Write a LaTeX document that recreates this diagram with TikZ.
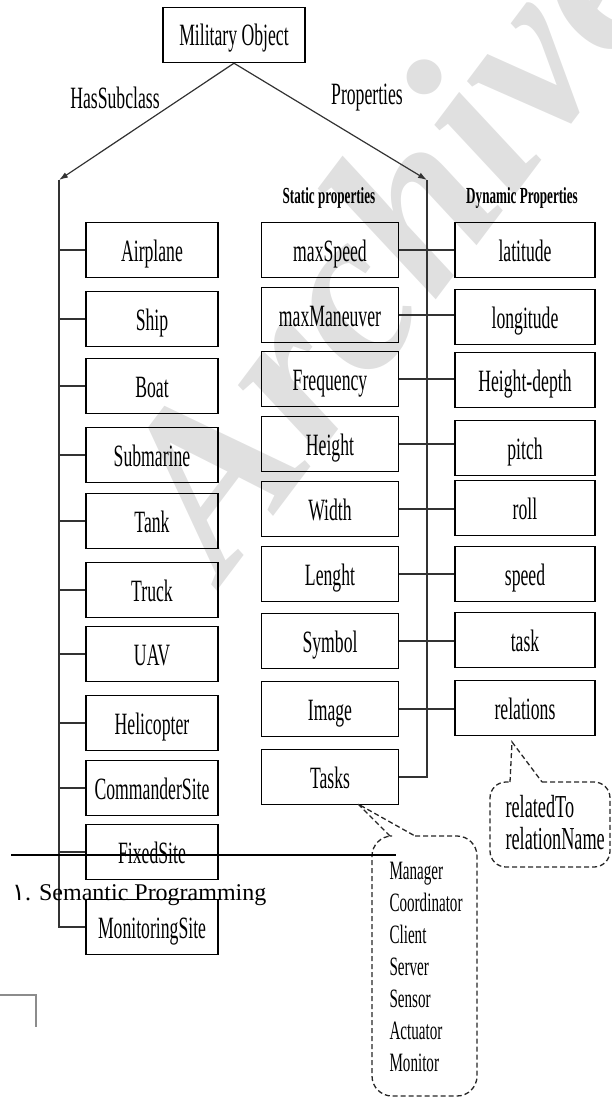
\documentclass[tikz,border=0pt]{standalone}
\usepackage{fontspec}
\setmainfont{Liberation Serif}
\newfontfamily\narrowfont[FakeStretch=0.57]{Liberation Serif}
\newfontfamily\arabicfont[Script=Arabic]{DejaVu Sans}
\TeXXeTstate=1
\usepackage{tikz}
\usetikzlibrary{arrows.meta}

\tikzset{
  objbox/.style={draw, line width=1.4pt, minimum height=55pt, inner sep=0pt,
    text height=22pt, text depth=0pt, font=\narrowfont\fontsize{31}{34}\selectfont},
  leftbox/.style={objbox, minimum width=132pt},
  midbox/.style={objbox, minimum width=137pt},
  rightbox/.style={objbox, minimum width=140pt},
  conn/.style={line width=1.2pt, draw=black!80},
  callout/.style={line width=1.3pt, dash pattern=on 5pt off 3pt, draw=black!85},
  linklabel/.style={font=\narrowfont\fontsize{31}{34}\selectfont},
  colhead/.style={font=\narrowfont\bfseries\fontsize{23}{26}\selectfont},
  listtext/.style={anchor=base west, font=\narrowfont\fontsize{26.5}{30}\selectfont},
  reltext/.style={anchor=base west, font=\narrowfont\fontsize{32}{34}\selectfont},
}

\begin{document}
\begin{tikzpicture}[x=1pt, y=-1pt]
  \useasboundingbox (0,0) rectangle (612,1097);
  \clip (0,0) rectangle (612,1097);

  % Watermark behind everything
  \node[rotate=53, anchor=base west, text=black!12,
    font=\fontsize{232}{232}\selectfont\bfseries\itshape] (mark) at (222,584) {Archive};

  % Root object
  \node[objbox, minimum width=142pt] (root) at (234,35) {Military Object};
  \node[linklabel] (hassub) at (115,98) {HasSubclass};
  \node[linklabel] (props) at (367,98) {Properties};
  \coordinate (lefttop) at (59,180);
  \coordinate (righttop) at (427,180);
  \draw[conn, -{Latex[length=9pt, width=6pt]}] (root.south) -- (lefttop);
  \draw[conn, -{Latex[length=9pt, width=6pt]}] (root.south) -- (righttop);

  % Column headings
  \node[colhead] (stathead) at (329,198) {Static properties};
  \node[colhead] (dynhead) at (522,198) {Dynamic Properties};

  % Subclasses
  \node[leftbox] (airplane) at (152,250) {Airplane};
  \node[leftbox] (ship) at (152,319) {Ship};
  \node[leftbox] (boat) at (152,386) {Boat};
  \node[leftbox] (submarine) at (152,455) {Submarine};
  \node[leftbox] (tank) at (152,521) {Tank};
  \node[leftbox] (truck) at (152,590) {Truck};
  \node[leftbox] (uav) at (152,654) {UAV};
  \node[leftbox] (helicopter) at (152,723) {Helicopter};
  \node[leftbox] (commander) at (152,788) {CommanderSite};
  \node[leftbox] (fixedsite) at (152,852) {FixedSite};
  \node[leftbox] (monitoring) at (152,927) {MonitoringSite};

  % Static properties
  \node[midbox] (smaxspeed) at (330,250) {maxSpeed};
  \node[midbox] (smaxman) at (330,315) {maxManeuver};
  \node[midbox] (sfreq) at (330,379) {Frequency};
  \node[midbox] (sheight) at (330,444) {Height};
  \node[midbox] (swidth) at (330,509) {Width};
  \node[midbox] (slength) at (330,574) {Lenght};
  \node[midbox] (ssymbol) at (330,641) {Symbol};
  \node[midbox] (simage) at (330,709) {Image};
  \node[midbox] (stasks) at (330,777) {Tasks};

  % Dynamic properties
  \node[rightbox] (dlat) at (525,250) {latitude};
  \node[rightbox] (dlong) at (525,317) {longitude};
  \node[rightbox] (ddepth) at (525,380) {Height-depth};
  \node[rightbox] (dpitch) at (525,448) {pitch};
  \node[rightbox] (droll) at (525,508) {roll};
  \node[rightbox] (dspeed) at (525,574) {speed};
  \node[rightbox] (dtask) at (525,640) {task};
  \node[rightbox] (drel) at (525,708) {relations};

  % Subclass bus
  \draw[conn] (lefttop) |- (monitoring.west);
  \draw[conn] (airplane.west) -- (airplane.west -| lefttop);
  \draw[conn] (ship.west) -- (ship.west -| lefttop);
  \draw[conn] (boat.west) -- (boat.west -| lefttop);
  \draw[conn] (submarine.west) -- (submarine.west -| lefttop);
  \draw[conn] (tank.west) -- (tank.west -| lefttop);
  \draw[conn] (truck.west) -- (truck.west -| lefttop);
  \draw[conn] (uav.west) -- (uav.west -| lefttop);
  \draw[conn] (helicopter.west) -- (helicopter.west -| lefttop);
  \draw[conn] (commander.west) -- (commander.west -| lefttop);
  \draw[conn] (fixedsite.west) -- (fixedsite.west -| lefttop);

  % Property bus and static-dynamic links
  \draw[conn] (righttop) |- (stasks.east);
  \draw[conn] (smaxspeed.east) -- (smaxspeed.east -| dlat.west);
  \draw[conn] (smaxman.east) -- (smaxman.east -| dlong.west);
  \draw[conn] (sfreq.east) -- (sfreq.east -| ddepth.west);
  \draw[conn] (sheight.east) -- (sheight.east -| dpitch.west);
  \draw[conn] (swidth.east) -- (swidth.east -| droll.west);
  \draw[conn] (slength.east) -- (slength.east -| dspeed.west);
  \draw[conn] (ssymbol.east) -- (ssymbol.east -| dtask.west);
  \draw[conn] (simage.east) -- (simage.east -| drel.west);

  % Callout for relations
  \coordinate (reltip) at (512,742);
  \draw[callout, rounded corners=16pt] (542,782) -- (610,782) -- (610,867) -- (490,867) -- (490,782) -- (510,782);
  \draw[callout] (510,782) -- (reltip) -- (542,782);
  \node[reltext] (relto) at (502,817) {relatedTo};
  \node[reltext] (relname) at (502,849) {relationName};

  % Callout for tasks
  \coordinate (tasktip) at (358,804);
  \draw[callout, rounded corners=20pt] (415,836) -- (477,836) -- (477,1096) -- (372,1096) -- (372,836) -- (390,836);
  \draw[callout] (390,836) -- (tasktip) -- (415,836);
  \node[listtext] (tmanager) at (386,879) {Manager};
  \node[listtext] (tcoord) at (386,911) {Coordinator};
  \node[listtext] (tclient) at (386,943) {Client};
  \node[listtext] (tserver) at (386,975) {Server};
  \node[listtext] (tsensor) at (386,1007) {Sensor};
  \node[listtext] (tactuator) at (386,1039) {Actuator};
  \node[listtext] (tmonitor) at (386,1071) {Monitor};

  % Footnote rule and text
  \coordinate (rulestart) at (11,855);
  \coordinate (ruleend) at (396,855);
  \draw[line width=1.8pt] (rulestart) -- (ruleend);
  \node[anchor=base west, font=\fontsize{24}{28}\selectfont, inner sep=0pt] (footnote) at (12,900)
    {{\arabicfont\beginR ١\endR}. Semantic Programming};

  % Page corner mark
  \coordinate (cornera) at (0,995);
  \coordinate (cornerb) at (36,995);
  \coordinate (cornerc) at (36,1027);
  \draw[black!45, line width=1.2pt] (cornera) -- (cornerb) -- (cornerc);
\end{tikzpicture}
\end{document}
